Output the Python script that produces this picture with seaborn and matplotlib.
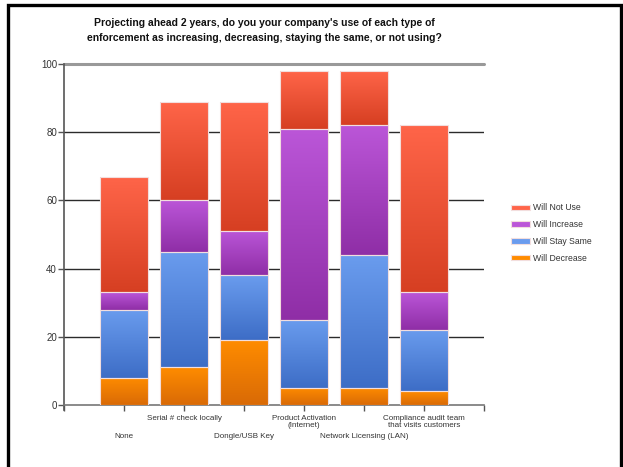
import numpy as np
import pandas as pd
import matplotlib
matplotlib.use("Agg")
import matplotlib.pyplot as plt
from matplotlib.colors import LinearSegmentedColormap
from matplotlib.patches import Rectangle, Patch
import seaborn as sns

# Survey data: percent of respondents per enforcement type
categories = [
    "None",
    "Serial # check locally",
    "Dongle/USB Key",
    "Product Activation\n(Internet)",
    "Network Licensing (LAN)",
    "Compliance audit team\nthat visits customers",
]
will_decrease = [8, 11, 19, 5, 5, 4]
will_stay_same = [20, 34, 19, 20, 39, 18]
will_increase = [5, 15, 13, 56, 38, 11]
will_not_use = [34, 29, 38, 17, 16, 49]

series_names = ["Will Decrease", "Will Stay Same", "Will Increase", "Will Not Use"]
series_values = [will_decrease, will_stay_same, will_increase, will_not_use]
# (top colour, bottom colour) of each gradient fill
series_colors = [
    ("#ff8c00", "#d96a06"),
    ("#6a9cee", "#3d6dc6"),
    ("#bb56d8", "#8f2ea6"),
    ("#ff6549", "#d63f22"),
]

sns.set_theme(style="white")
plt.rcParams["font.family"] = ["Liberation Sans", "DejaVu Sans"]

fig = plt.figure(figsize=(6.23, 4.67), dpi=100)
ax = fig.add_axes([64 / 623, 1 - 405 / 467, 420 / 623, 341 / 467])

df = pd.DataFrame({"category": categories})
bottom = np.zeros(len(categories))
layers = []
for name, vals, cols in zip(series_names, series_values, series_colors):
    df[name] = vals
    n_before = len(ax.patches)
    sns.barplot(data=df, x="category", y=name, bottom=bottom.copy(), width=0.8,
                color=cols[0], edgecolor="#f2dede", linewidth=0.8, ax=ax,
                zorder=3)
    layers.append((ax.patches[n_before:], cols))
    bottom = bottom + np.array(vals)

# Vertical gradient inside each bar segment
grad = np.linspace(0, 1, 256).reshape(-1, 1)
for patches, cols in layers:
    cmap = LinearSegmentedColormap.from_list("g", [cols[1], cols[0]])
    for p in patches:
        x0, y0 = p.get_x(), p.get_y()
        w, h = p.get_width(), p.get_height()
        im = ax.imshow(grad, extent=(x0, x0 + w, y0, y0 + h), origin="lower",
                       cmap=cmap, aspect="auto", zorder=3, interpolation="bilinear")
        im.set_clip_path(p)
        p.set_facecolor("none")
        p.set_zorder(4)

ax.set_xlim(-1, 6)
ax.set_ylim(0, 100)

# Horizontal reference lines
for yv in [20, 40, 60, 80]:
    ax.axhline(yv, color="#2b2b2b", lw=1.0, zorder=1)
ax.axhline(100, color="#999999", lw=2.2, zorder=1, clip_on=False)

for s in ["top", "right"]:
    ax.spines[s].set_visible(False)
ax.spines["left"].set_color("#555555")
ax.spines["left"].set_linewidth(1.2)
ax.spines["left"].set_bounds(-1.5, 100)
ax.spines["bottom"].set_color("#777777")
ax.spines["bottom"].set_linewidth(1.2)

ax.set_yticks([0, 20, 40, 60, 80, 100])
ax.set_yticklabels(["0", "20", "40", "60", "80", "100"], fontsize=7, color="#333333")
ax.tick_params(axis="y", length=4, width=1, color="#555555", left=True, pad=1)

ax.set_xticks(list(range(-1, 7)))
ax.set_xticklabels([""] * 8)
ax.tick_params(axis="x", length=4, width=1, color="#555555", bottom=True, direction="out")
ax.set_xlabel("")
ax.set_ylabel("")

# Staggered category labels
for i, lab in enumerate(categories):
    offset = -7 if i % 2 == 1 else -20
    ax.annotate(lab, xy=(i, 0), xycoords=("data", "axes fraction"),
                xytext=(0, offset), textcoords="offset points",
                ha="center", va="top", fontsize=5.8, color="#333333",
                linespacing=1.0)

fig.text(0.4246, 1 - 30.5 / 467,
         "Projecting ahead 2 years, do you your company's use of each type of\n"
         "enforcement as increasing, decreasing, staying the same, or not using?",
         ha="center", va="center", fontsize=7.5, fontweight="bold", color="#111111",
         linespacing=1.55)

# Legend, listed top-down in reverse stacking order
handles = []
for name, cols in zip(series_names[::-1], series_colors[::-1]):
    handles.append(Patch(facecolor=cols[0], edgecolor="#f2dede", linewidth=0.8))
leg = fig.legend(handles, series_names[::-1], loc="center left",
                 bbox_to_anchor=(511 / 623, 1 - 233 / 467), frameon=False,
                 fontsize=6.2, handlelength=2.2, handleheight=0.6,
                 labelspacing=0.9, handletextpad=0.35, borderaxespad=0,
                 borderpad=0)
for t in leg.get_texts():
    t.set_color("#333333")

# Outer frame
fig.add_artist(Rectangle((7.5 / 623, -0.02), (620.5 - 7.5) / 623, 1 - 5 / 467 + 0.02,
                         transform=fig.transFigure, fill=False,
                         edgecolor="black", linewidth=2.4))

fig.savefig("out.png", dpi=100, facecolor="white")
